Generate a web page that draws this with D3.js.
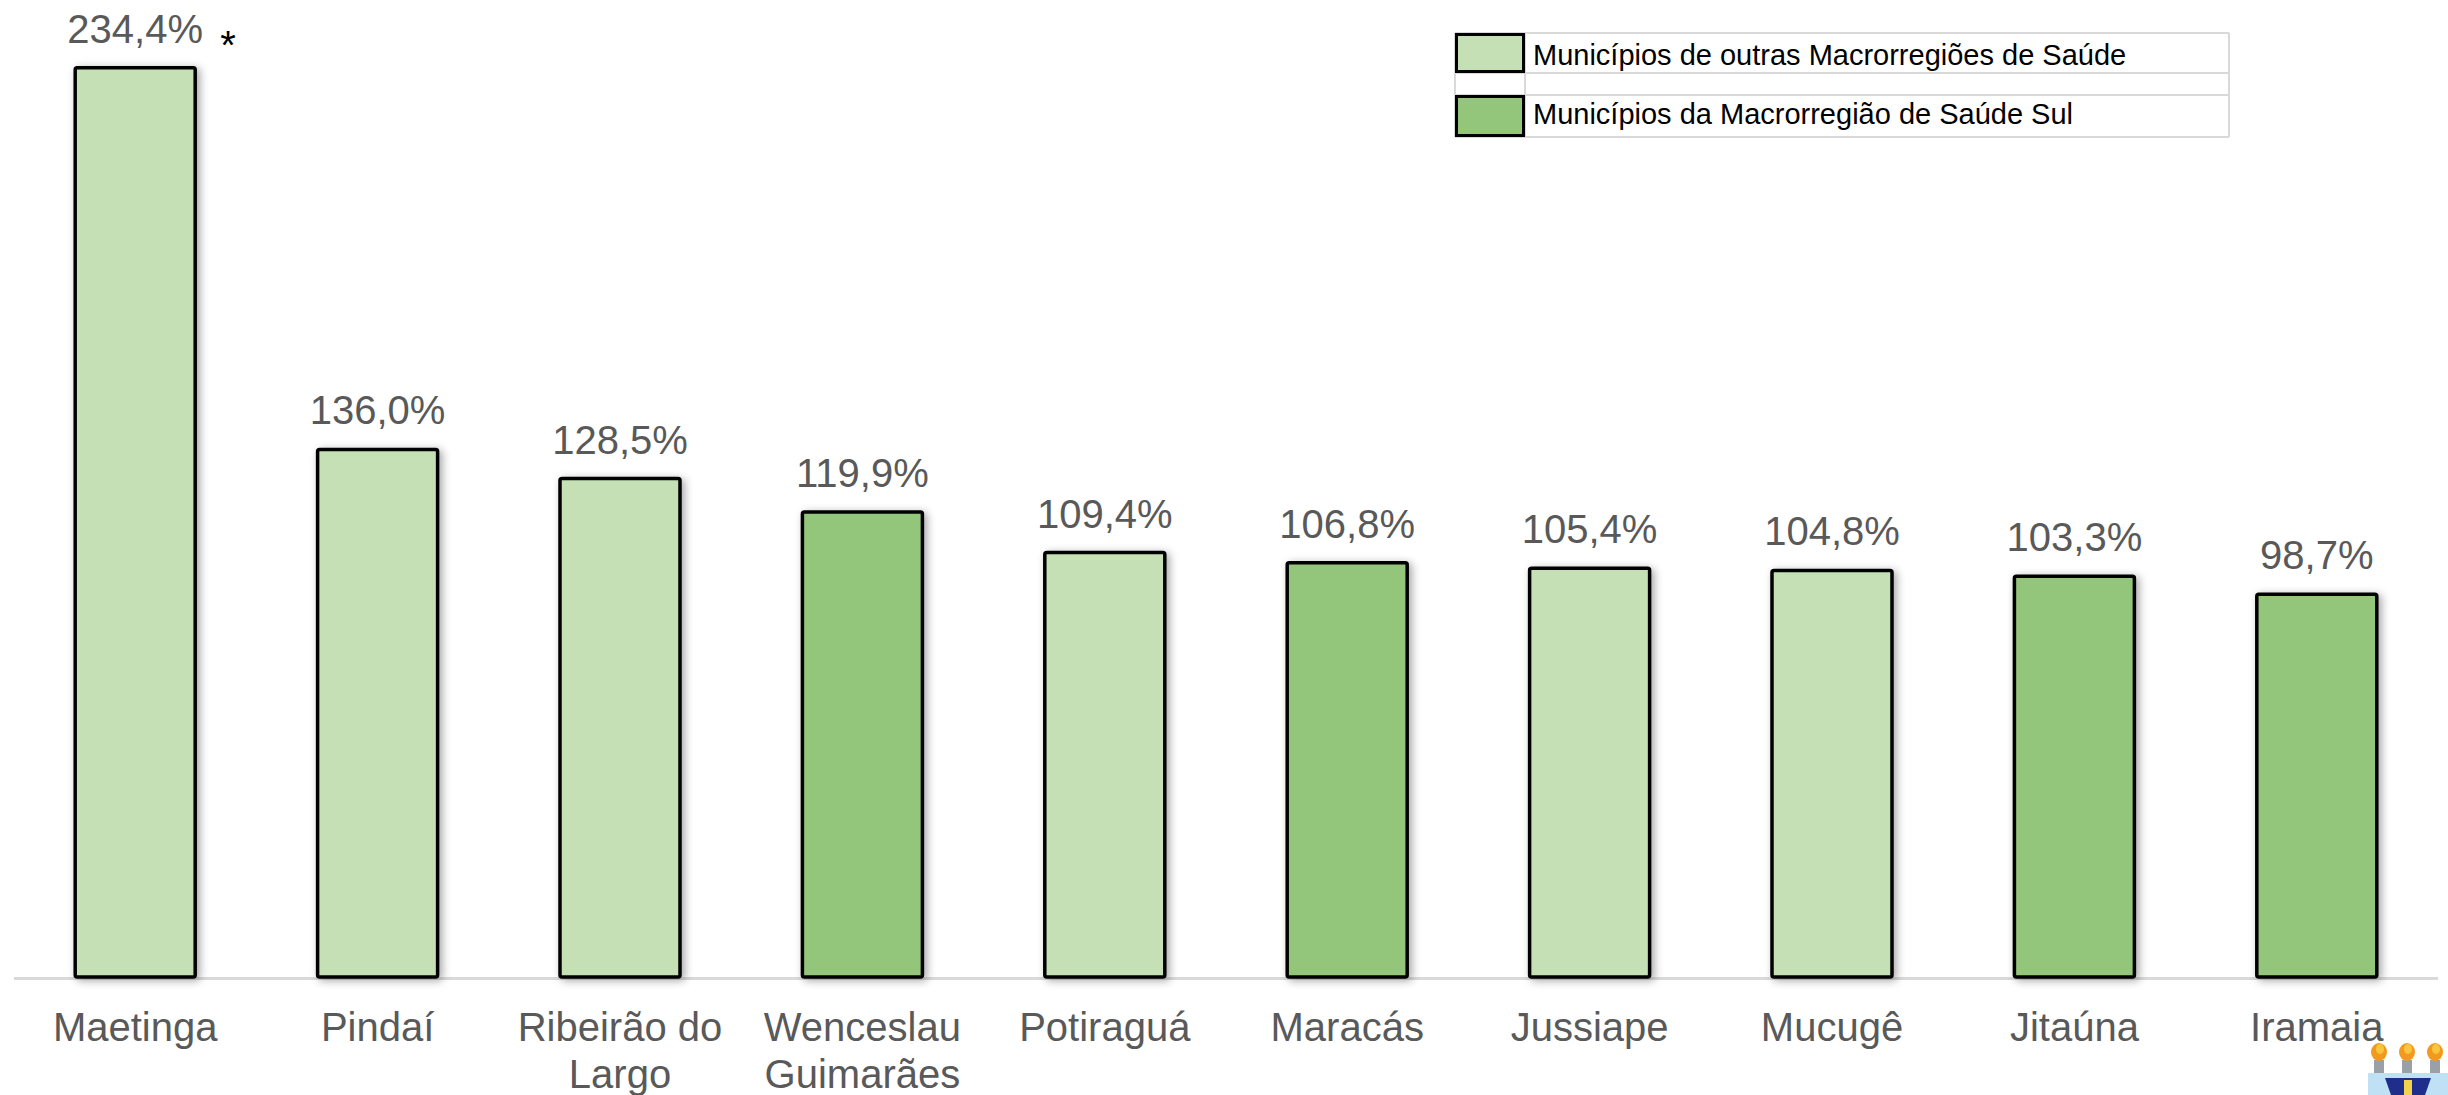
<!DOCTYPE html>
<html><head><meta charset="utf-8">
<script src="https://cdn.jsdelivr.net/npm/d3@7"></script>
<style>html,body{margin:0;padding:0;background:#fff;}svg{display:block;}</style>
</head><body>
<svg id="chart" width="2448" height="1095"></svg>
<script>
const categories = ["Maetinga","Pindaí","Ribeirão do Largo","Wenceslau Guimarães","Potiraguá","Maracás","Jussiape","Mucugê","Jitaúna","Iramaia"];
const tickLabels = [["Maetinga"],["Pindaí"],["Ribeirão do","Largo"],["Wenceslau","Guimarães"],["Potiraguá"],["Maracás"],["Jussiape"],["Mucugê"],["Jitaúna"],["Iramaia"]];
const values = [234.4,136.0,128.5,119.9,109.4,106.8,105.4,104.8,103.3,98.7];
const groups = ["outras","outras","outras","sul","outras","sul","outras","outras","sul","sul"];
const legendLabels = ["Municípios de outras Macrorregiões de Saúde","Municípios da Macrorregião de Saúde Sul"];
const legendKeys = ["outras","sul"];
const flagged = ["Maetinga"];

const W = 2448, H = 1095;
const svg = d3.select("#chart");
const font = "'Liberation Sans', Arial, sans-serif";
const color = d3.scaleOrdinal().domain(["outras","sul"]).range(["#c5e0b4","#93c57a"]);

const defs = svg.append("defs");
const f = defs.append("filter").attr("id","shadow").attr("x","-20%").attr("y","-20%").attr("width","150%").attr("height","150%");
f.append("feDropShadow").attr("dx",3).attr("dy",2).attr("stdDeviation",4).attr("flood-color","#000").attr("flood-opacity",0.35);

const x = d3.scaleBand().domain(categories).range([14, 2438]).paddingInner(0.505).paddingOuter(0.2525);
const y = d3.scaleLinear().domain([0, 240]).range([977, 46]);

const loc = d3.formatLocale({decimal:",", thousands:".", grouping:[3], currency:["",""]});
const fmt = v => loc.format(".1f")(v) + "%";

const data = categories.map((c,i)=>({c, v:values[i], g:groups[i], lab:tickLabels[i]}));

// axis line
svg.append("line").attr("x1",x.range()[0]).attr("x2",x.range()[1]).attr("y1",y(0)+1.5).attr("y2",y(0)+1.5)
  .attr("stroke","#d9d9d9").attr("stroke-width",3);

// bars
svg.append("g").selectAll("rect").data(data).join("rect")
  .attr("x",d=>x(d.c)).attr("width",x.bandwidth())
  .attr("y",d=>y(d.v)).attr("height",d=>y(0)-y(d.v))
  .attr("rx",2)
  .attr("fill",d=>color(d.g)).attr("stroke","#000").attr("stroke-width",3.5)
  .attr("filter","url(#shadow)");

// value labels
svg.append("g").selectAll("text").data(data).join("text")
  .attr("x",d=>x(d.c)+x.bandwidth()/2).attr("y",d=>y(d.v)-25)
  .attr("text-anchor","middle").attr("font-family",font).attr("font-size",40).attr("fill","#595959")
  .text(d=>fmt(d.v));

// asterisk
svg.append("g").selectAll("text").data(data.filter(d=>flagged.includes(d.c))).join("text")
  .attr("x",d=>x(d.c)+x.bandwidth()/2+85).attr("y",d=>y(d.v)-9)
  .attr("font-family",font).attr("font-size",40).attr("fill","#000").text("*");

// category labels
const cl = svg.append("g").selectAll("text").data(data).join("text")
  .attr("text-anchor","middle").attr("font-family",font).attr("font-size",40).attr("fill","#595959");
cl.selectAll("tspan").data(d=>d.lab.map(t=>({t, cx:x(d.c)+x.bandwidth()/2}))).join("tspan")
  .attr("x",d=>d.cx).attr("y",(d,i)=>1041 + i*47).text(d=>d.t);

// legend (table-like)
const lg = svg.append("g");
const lx0 = 1455, lx1 = 1525, lx2 = 2229;
const rows = [[33,73],[95,137]];
const gridY = [33,73,95,137];
gridY.forEach(yy=>lg.append("line").attr("x1",lx0).attr("x2",lx2).attr("y1",yy).attr("y2",yy).attr("stroke","#d9d9d9").attr("stroke-width",2));
[lx0,lx1,lx2].forEach(xx=>lg.append("line").attr("x1",xx).attr("x2",xx).attr("y1",33).attr("y2",137).attr("stroke","#d9d9d9").attr("stroke-width",2));
legendKeys.forEach((k,i)=>{
  const [ya,yb] = rows[i];
  lg.append("rect").attr("x",lx0+1.5).attr("y",ya+1.5).attr("width",lx1-lx0-3).attr("height",yb-ya-3)
    .attr("fill",color(k)).attr("stroke","#000").attr("stroke-width",3);
  lg.append("text").attr("x",lx1+8).attr("y",[65,124][i]).attr("font-family",font).attr("font-size",29).attr("fill","#000")
    .text(legendLabels[i]);
});

// logo (approximation, bottom-right)
const logo = svg.append("g");
logo.append("rect").attr("x",2368).attr("y",1073).attr("width",80).attr("height",22).attr("fill","#bfe0f5");
logo.append("path").attr("d","M2385,1078 L2431,1078 L2425,1095 L2391,1095 Z").attr("fill","#1f2e8a");
logo.append("rect").attr("x",2404).attr("y",1080).attr("width",8).attr("height",15).attr("fill","#f2d24a");
[2379,2407,2435].forEach(cx=>{
  logo.append("rect").attr("x",cx-5).attr("y",1060).attr("width",10).attr("height",13).attr("fill","#9aa0a8");
  logo.append("ellipse").attr("cx",cx).attr("cy",1052).attr("rx",8).attr("ry",9).attr("fill","#f39a1e");
  logo.append("ellipse").attr("cx",cx+1).attr("cy",1049).attr("rx",4).attr("ry",5).attr("fill","#f7c640");
});
</script>
</body></html>
